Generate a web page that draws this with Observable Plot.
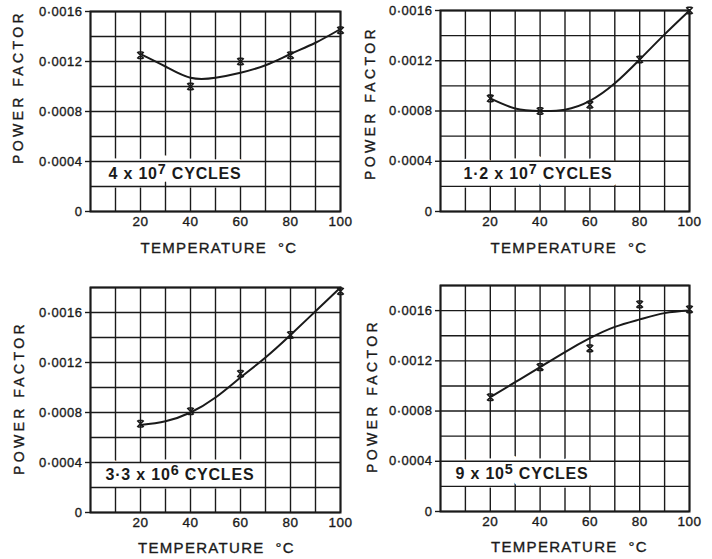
<!DOCTYPE html>
<html><head><meta charset="utf-8">
<script src="https://cdn.jsdelivr.net/npm/d3@7"></script>
<script src="https://cdn.jsdelivr.net/npm/@observablehq/plot@0.6"></script>
<style>
html,body{margin:0;padding:0;background:#fff;}
#wrap{position:relative;width:712px;height:559px;overflow:hidden;background:#fff;}
.panel{position:absolute;}
.panel svg text{letter-spacing:0.5px;}
</style></head><body><div id="wrap"></div>
<script>
// ---- data ----
const temps = [20, 40, 60, 80, 100];                       // measured points (°C)
const fitTemps = [20, 30, 40, 50, 60, 70, 80, 90, 100];     // points along the drawn curve
const xTickLabels = [20, 40, 60, 80, 100];
const xGrid = [0, 10, 20, 30, 40, 50, 60, 70, 80, 90, 100];
const yGrid16 = [0, 0.0002, 0.0004, 0.0006, 0.0008, 0.0010, 0.0012, 0.0014, 0.0016];
const yGrid18 = [0, 0.0002, 0.0004, 0.0006, 0.0008, 0.0010, 0.0012, 0.0014, 0.0016, 0.0018];
const yTickLabels = [0, 0.0004, 0.0008, 0.0012, 0.0016];
const yMax = [0.0016, 0.0016, 0.0018, 0.0018];
const cycleLabels = ["4 x 10^7 CYCLES", "1·2 x 10^7 CYCLES", "3·3 x 10^6 CYCLES", "9 x 10^5 CYCLES"];
const xTitle = "TEMPERATURE\u00a0\u00a0°C";
const yTitle = "POWER FACTOR";

const pf1  = [0.00125, 0.00100, 0.00120, 0.00125, 0.00145];
const fit1 = [0.00126, 0.00116, 0.00107, 0.00107, 0.00111, 0.00117, 0.00126, 0.00135, 0.00146];
const pf2  = [0.00090, 0.00080, 0.00085, 0.00121, 0.00160];
const fit2 = [0.00090, 0.00082, 0.00080, 0.00081, 0.00088, 0.00102, 0.00121, 0.00141, 0.00160];
const pf3  = [0.00071, 0.00081, 0.00111, 0.00142, 0.00177];
const fit3 = [0.00070, 0.00073, 0.00080, 0.00092, 0.00108, 0.00124, 0.00142, 0.00161, 0.00180];
const pf4  = [0.00091, 0.00115, 0.00130, 0.00165, 0.00161];
const fit4 = [0.00091, 0.00103, 0.00115, 0.00127, 0.00138, 0.00147, 0.00153, 0.00158, 0.00160];

// ---- layout ----
const ink = "#1a1a1a";
const font = "'Liberation Sans', Arial, Helvetica, sans-serif";
const panels = [
  {left: 0,   top: 0,   h: 279, mt: 11, mb: 68, ml: 90, mr: 16, pf: pf1, fit: fit1, ymax: yMax[0], grid: yGrid16, label: cycleLabels[0], ldx: 18, ydx: -72, ydy: -24.5, tdx: 3.5, tdy: 37},
  {left: 356, top: 0,   h: 279, mt: 10, mb: 68, ml: 84, mr: 23, pf: pf2, fit: fit2, ymax: yMax[1], grid: yGrid16, label: cycleLabels[1], ldx: 23, ydx: -70, ydy: -8,    tdx: 4,   tdy: 36.6},
  {left: 0,   top: 279, h: 280, mt: 8,  mb: 47, ml: 90, mr: 16, pf: pf3, fit: fit3, ymax: yMax[2], grid: yGrid18, label: cycleLabels[2], ldx: 15, ydx: -71, ydy: -2,    tdx: 1,   tdy: 36},
  {left: 356, top: 279, h: 280, mt: 6,  mb: 48, ml: 84, mr: 23, pf: pf4, fit: fit4, ymax: yMax[3], grid: yGrid18, label: cycleLabels[3], ldx: 15, ydx: -67.5, ydy: -2.5, tdx: 4.5, tdy: 36}
];

const hourglass = {
  draw(ctx, size) {
    const r = Math.sqrt(size / Math.PI);
    ctx.moveTo(-r, -r); ctx.lineTo(r, r);
    ctx.moveTo(r, -r); ctx.lineTo(-r, r);
    ctx.moveTo(-r * 0.7, -r); ctx.lineTo(r * 0.7, -r);
    ctx.moveTo(-r * 0.7, r); ctx.lineTo(r * 0.7, r);
  }
};

const fmt = d => d === 0 ? "0" : "0·" + d.toFixed(4).split(".")[1];

function finishTexts(svg) {
  const ns = "http://www.w3.org/2000/svg";
  svg.querySelectorAll("text").forEach(t => {
    const g = t.closest("g");
    const isHalo = g && g.getAttribute("stroke") === "white";
    const s = t.textContent;
    if (!isHalo) {
      t.style.stroke = ink;
      t.style.strokeWidth = "0.35px";
    }
    if (s === yTitle) { t.style.letterSpacing = "3.4px"; return; }
    if (s === xTitle) { t.style.letterSpacing = "1.3px"; return; }
    const m = s.match(/^(.*?)\^(\d+)(.*)$/);
    if (!m) return;
    if (!isHalo) t.style.strokeWidth = "0px";
    t.style.letterSpacing = "0.8px";
    t.textContent = "";
    const a = document.createElementNS(ns, "tspan"); a.textContent = m[1];
    const b = document.createElementNS(ns, "tspan"); b.textContent = m[2];
    b.setAttribute("dy", "-5"); b.setAttribute("font-size", "90%");
    const c = document.createElementNS(ns, "tspan"); c.textContent = m[3].replace(/ /g, "\u00a0");
    c.setAttribute("dy", "5");
    t.append(a, b, c);
  });
}

const wrap = document.getElementById("wrap");
panels.forEach(p => {
  const pts = temps.map((t, i) => ({t, v: p.pf[i]}));
  const fit = fitTemps.map((t, i) => ({t, v: p.fit[i]}));
  const labelY = () => 0.0003;
  const chart = Plot.plot({
    width: 356, height: p.h,
    marginTop: p.mt, marginBottom: p.mb, marginLeft: p.ml, marginRight: p.mr,
    x: {domain: [0, 100]},
    y: {domain: [0, p.ymax]},
    style: {fontFamily: font, fontSize: "13px", color: ink, background: "white", overflow: "visible"},
    marks: [
      Plot.gridX(xGrid, {stroke: ink, strokeOpacity: 1, strokeWidth: 1.4}),
      Plot.text([p.label], {y: labelY, frameAnchor: "left", dx: p.ldx, textAnchor: "start", lineAnchor: "middle", fontSize: 16, fontWeight: "bold",
        fill: "white", stroke: "white", strokeWidth: 17, strokeLinejoin: "round"}),
      Plot.gridY(p.grid, {stroke: ink, strokeOpacity: 1, strokeWidth: 1.4}),
      Plot.frame({stroke: ink, strokeWidth: 2}),
      Plot.line(fit, {x: "t", y: "v", curve: "natural", stroke: ink, strokeWidth: 2}),
      Plot.dot(pts, {x: "t", y: "v", symbol: hourglass, r: 3.3, stroke: ink, strokeWidth: 1.6, fill: "none"}),
      Plot.text([p.label], {y: labelY, frameAnchor: "left", dx: p.ldx, textAnchor: "start", lineAnchor: "middle", fontSize: 16, fontWeight: "bold",
        fill: ink}),
      Plot.axisY({ticks: yTickLabels, tickFormat: fmt, tickSize: 5, tickPadding: 3, fontSize: 13, label: null, stroke: ink, strokeWidth: 1.4}),
      Plot.axisX({ticks: xTickLabels, tickSize: 0, tickPadding: 5, fontSize: 13.5, label: null}),
      Plot.text([yTitle], {frameAnchor: "left", dx: p.ydx, dy: p.ydy, rotate: -90, textAnchor: "middle", lineAnchor: "middle", fontSize: 14, fill: ink}),
      Plot.text([xTitle], {frameAnchor: "bottom", dx: p.tdx, dy: p.tdy, textAnchor: "middle", lineAnchor: "middle", fontSize: 15, fill: ink})
    ]
  });
  finishTexts(chart);
  const div = document.createElement("div");
  div.className = "panel";
  div.style.left = p.left + "px";
  div.style.top = p.top + "px";
  div.appendChild(chart);
  wrap.appendChild(div);
});
</script>
</body></html>
